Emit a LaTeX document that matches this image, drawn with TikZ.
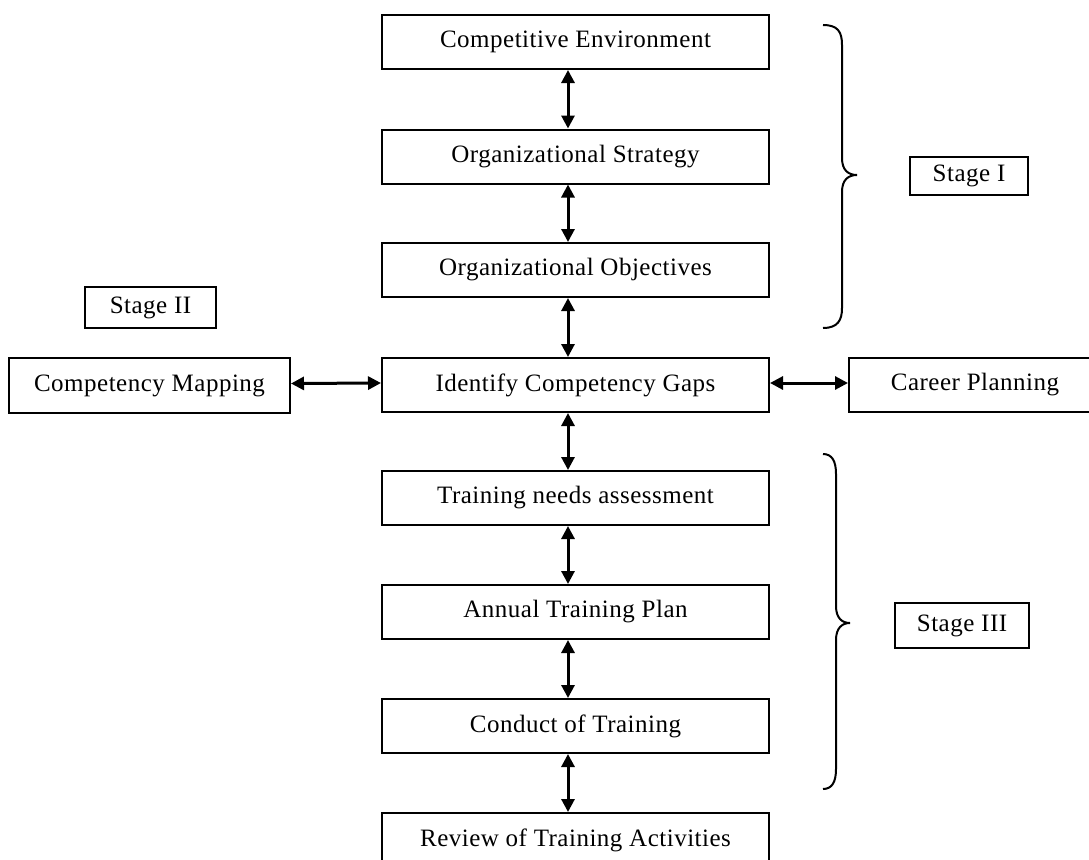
\documentclass[tikz,border=0pt]{standalone}
\usepackage{fontspec}
\setmainfont[LetterSpace=2]{Liberation Serif}
\usetikzlibrary{arrows.meta}

\begin{document}
\begin{tikzpicture}[x=1pt, y=-1pt,
    flow/.style={draw, line width=2pt, minimum width=387pt, minimum height=54pt, inner sep=0pt, font=\fontsize{25}{29}\selectfont},
    stagebox/.style={draw, line width=1.8pt, inner sep=0pt, font=\fontsize{25}{29}\selectfont},
    arr/.style={draw, line width=3pt, {Triangle[length=13pt,width=13pt]}-{Triangle[length=13pt,width=13pt]}},
    brace/.style={draw, line width=2pt}]
    \useasboundingbox (0,0) rectangle (1089,859);
    \clip (0,0) rectangle (1089,859);

    \node[flow] (envi) at (575.5,42) {Competitive Environment};
    \node[flow] (strat) at (575.5,156.5) {Organizational Strategy};
    \node[flow] (obj) at (575.5,270) {Organizational Objectives};
    \node[flow] (gaps) at (575.5,385) {Identify Competency Gaps};
    \node[flow] (tna) at (575.5,498) {Training needs assessment};
    \node[flow] (plan) at (575.5,612) {Annual Training Plan};
    \node[flow] (conduct) at (575.5,726) {Conduct of Training};
    \node[flow] (review) at (575.5,840) {Review of Training Activities};

    \node[flow, minimum width=281pt, minimum height=55pt] (mapping) at (149.5,385.5) {Competency Mapping};
    \node[flow, minimum width=252pt] (career) at (975,385) {Career Planning};

    \node[stagebox, minimum width=118pt, minimum height=38pt] (stageone) at (969,176) {Stage I};
    \node[stagebox, minimum width=131pt, minimum height=41pt] (stagetwo) at (150.5,307.5) {Stage II};
    \node[stagebox, minimum width=134pt, minimum height=45pt] (stagethree) at (962,625.5) {Stage III};

    \draw[arr] ([xshift=-7.5pt]envi.south) -- ([xshift=-7.5pt]strat.north);
    \draw[arr] ([xshift=-7.5pt]strat.south) -- ([xshift=-7.5pt]obj.north);
    \draw[arr] ([xshift=-7.5pt]obj.south) -- ([xshift=-7.5pt]gaps.north);
    \draw[arr] ([xshift=-7.5pt]gaps.south) -- ([xshift=-7.5pt]tna.north);
    \draw[arr] ([xshift=-7.5pt]tna.south) -- ([xshift=-7.5pt]plan.north);
    \draw[arr] ([xshift=-7.5pt]plan.south) -- ([xshift=-7.5pt]conduct.north);
    \draw[arr] ([xshift=-7.5pt]conduct.south) -- ([xshift=-7.5pt]review.north);

    \draw[arr] ([yshift=2pt]mapping.east) -- ([yshift=2pt]gaps.west);
    \draw[arr] ([yshift=2pt]gaps.east) -- ([yshift=2pt]career.west);

    % braces for the stages
    \draw[brace] (823,25) .. controls (838,25) and (842,32) .. (842,45) -- (842,158)
        .. controls (842,170) and (848,175) .. (857,175)
        .. controls (848,175) and (842,180) .. (842,192) -- (842,308)
        .. controls (842,320) and (838,328) .. (823,328);
    \draw[brace] (823,454) .. controls (832,454) and (836,461) .. (836,474) -- (836,606)
        .. controls (836,618) and (842,623) .. (850,623)
        .. controls (842,623) and (836,628) .. (836,640) -- (836,769)
        .. controls (836,782) and (832,789) .. (823,789);
\end{tikzpicture}
\end{document}
